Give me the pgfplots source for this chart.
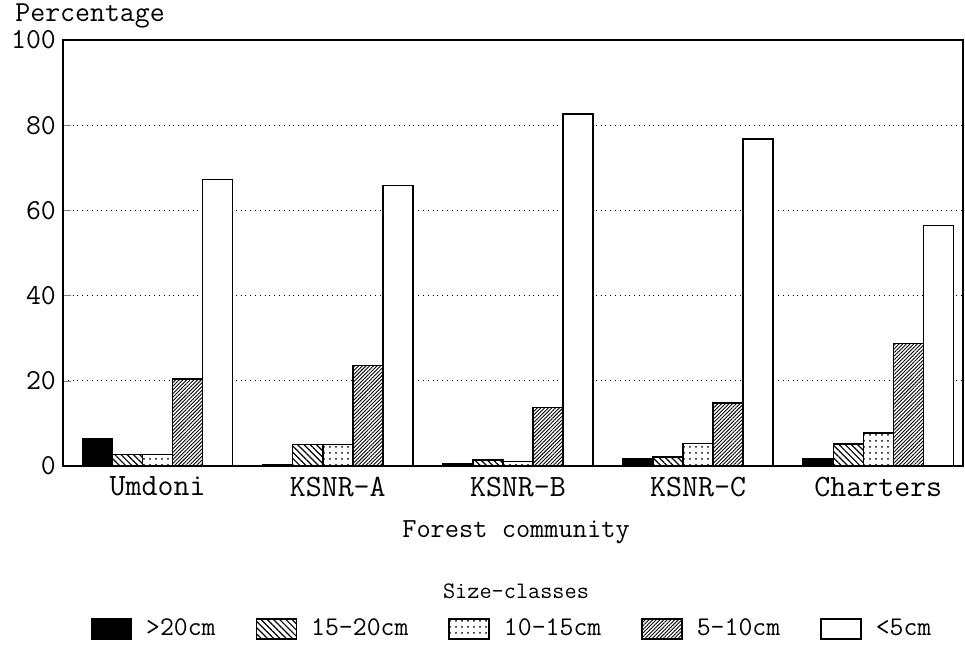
\documentclass[border=0pt]{standalone}
\usepackage{fontspec}
\usepackage{pgfplots}
\pgfplotsset{compat=1.18}
\usetikzlibrary{patterns.meta}

% size-class shares (%) per forest community, x = 0..4
\pgfplotstableread{
x   gt20  s1520  s1015  s510  lt5
0   6.3   2.7    2.7    20.4  67.3
1   0.3   5.1    5.1    23.6  65.9
2   0.6   1.4    1.1    13.7  82.6
3   1.6   2.1    5.3    14.8  76.7
4   1.6   5.2    7.7    28.8  56.5
}\sizedata

\newcommand{\bigtt}{\ttfamily\fontsize{15.5}{18}\selectfont}

\begin{document}
\begin{tikzpicture}
\begin{axis}[
    name=ax,
    scale only axis,
    width=450pt, height=213pt,
    ybar=0pt, bar width=0.1667,
    xmin=-0.525, xmax=4.47,
    ymin=0, ymax=100,
    xtick={0,1,2,3,4},
    xticklabels={Umdoni,KSNR-A,KSNR-B,KSNR-C,Charters},
    x tick style={draw=none},
    ytick={0,20,40,60,80,100},
    ytick pos=left,
    tick align=inside,
    major tick length=4pt,
    ymajorgrids=true,
    grid style={dotted, line width=0.5pt, black},
    axis line style={line width=0.7pt},
    tick label style={font=\bigtt},
    yticklabel style={font=\ttfamily\fontsize{14.5}{17}\selectfont, inner ysep=0pt},
    xticklabel style={yshift=-2pt},
    /pgf/number format/assume math mode=true,
    every axis plot/.append style={draw=black, line width=0.75pt},
    legend columns=5,
    legend image code/.code={
        \draw[#1] (0pt,-5pt) rectangle (20pt,5pt);
        \path (25pt,0pt);
    },
    legend style={
        draw=none, fill=none,
        at={(0.5,0)}, anchor=center, xshift=0pt, yshift=-81.5pt,
        font=\ttfamily\fontsize{13.5}{16}\selectfont,
        /tikz/every even column/.append style={column sep=18pt},
    },
]
\addplot[fill=black] table[x=x, y=gt20] {\sizedata};
\addplot[fill=white, postaction={pattern={Lines[angle=-45, distance=2.2pt, line width=0.6pt]}}]
    table[x=x, y=s1520] {\sizedata};
\addplot[fill=white, postaction={pattern={Dots[distance=3pt, radius=0.5pt]}}]
    table[x=x, y=s1015] {\sizedata};
\addplot[fill=white, postaction={pattern={Lines[angle=45, distance=1.3pt, line width=0.45pt]}}]
    table[x=x, y=s510] {\sizedata};
\addplot[fill=white] table[x=x, y=lt5] {\sizedata};
\legend{>20cm, 15-20cm, 10-15cm, 5-10cm, <5cm}
\end{axis}

\node[anchor=base west, font=\ttfamily\fontsize{14.5}{17}\selectfont, inner xsep=0pt, inner ysep=1pt]
    at ([xshift=-24pt, yshift=9pt]ax.north west) {Percentage};
\node[anchor=base, font=\ttfamily\fontsize{13.8}{16}\selectfont] at ([xshift=1.5pt, yshift=-36pt]ax.south) {Forest community};
\node[anchor=base, font=\ttfamily\fontsize{11.8}{14}\selectfont] at ([xshift=1.5pt, yshift=-66.5pt]ax.south) {Size-classes};

\pgfresetboundingbox
\path ([xshift=-31.5pt, yshift=-92.5pt]ax.south west) rectangle ([xshift=1pt, yshift=20pt]ax.north east);
\end{tikzpicture}
\end{document}
